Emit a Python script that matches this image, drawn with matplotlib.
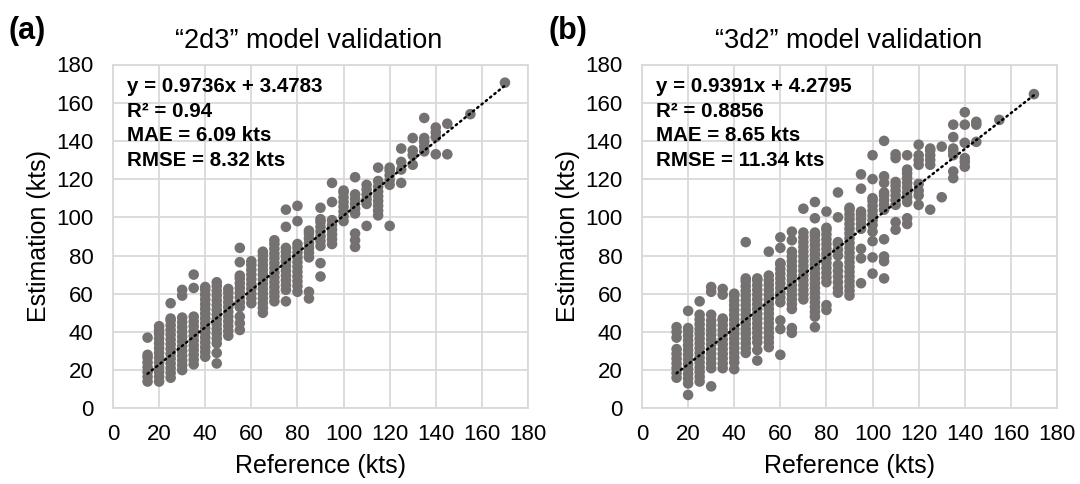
import matplotlib
matplotlib.use("Agg")
import matplotlib.pyplot as plt
import numpy as np

plt.rcParams['font.family'] = ['Liberation Sans', 'DejaVu Sans']

# ---------------- data ----------------
# Reference wind speed columns (kts)
refs_a = [15, 20, 25, 30, 35, 40, 45, 50, 55, 60, 65, 70, 75, 80, 85, 90, 95,
          100, 105, 110, 115, 120, 125, 130, 135, 140, 145, 155, 170]
est_a = [
    [14, 16.5, 19, 21.5, 24, 26.5, 28, 37],
    [14, 16.5, 19, 21.5, 24, 26.5, 29, 31.5, 34, 36.5, 39, 41, 43],
    [16, 18.5, 21, 23.5, 26, 28.5, 31, 33.5, 36, 38.5, 41, 43.5, 46, 47, 55],
    [20, 22.5, 25, 27.5, 30, 32.5, 35, 37.5, 40, 42.5, 45, 47.5, 59, 62],
    [23, 25.5, 28, 30.5, 33, 35.5, 38, 40.5, 43, 45.5, 48, 63, 70],
    [27, 29.5, 32, 34.5, 37, 39.5, 42, 44.5, 47, 49.5, 52, 54.5, 57, 59.5, 62, 63.5],
    [23.5, 29, 34, 36.5, 39, 41.5, 44, 46.5, 49, 51.5, 54, 56.5, 59, 61.5, 64, 66],
    [38, 40.5, 43, 45.5, 48, 50.5, 53, 55.5, 58, 60.5, 62.5],
    [41, 44.5, 48, 53, 55.5, 58, 60.5, 63, 65.5, 68, 69.5, 76.5, 84],
    [55, 57.5, 60, 62.5, 65, 67.5, 70, 72.5, 75, 77],
    [50, 52.5, 55, 57.5, 60, 62.5, 65, 67.5, 70, 72.5, 75, 77.5, 80, 82],
    [56, 58.5, 61, 63.5, 66, 68.5, 71, 73.5, 76, 78.5, 81, 83.5, 86, 88],
    [56, 62, 64.5, 67, 69.5, 72, 74.5, 77, 79.5, 82, 84, 95, 104],
    [61, 64, 66.5, 69, 71.5, 74, 76.5, 79, 81.5, 84, 86, 98, 106],
    [57.5, 61, 79, 81.5, 84, 86.5, 89, 91.5, 93],
    [69, 76, 85, 87.5, 90, 92.5, 95, 97.5, 99, 105],
    [86, 88.5, 91, 93.5, 96, 98.5, 108, 118],
    [98, 100.5, 103, 105.5, 108, 110.5, 113, 114],
    [84.5, 88, 91.5, 102, 104.5, 107, 109.5, 112, 121],
    [95.5, 107, 109.5, 112, 114.5, 117],
    [101, 103.5, 106, 108.5, 111, 113.5, 116, 119, 126],
    [95.5, 117, 119.5, 122, 124.5, 126],
    [118, 125, 129, 136],
    [127.5, 132.5, 135, 141.5],
    [134.5, 137, 139.5, 141.5, 152],
    [133, 142, 144.5, 147],
    [133, 149],
    [154],
    [170.5],
]

refs_b = [15, 20, 25, 30, 35, 40, 45, 50, 55, 60, 65, 70, 75, 80, 85, 90, 95,
          100, 105, 110, 115, 120, 125, 130, 135, 140, 145, 155, 170]
est_b = [
    [16, 18.5, 21, 23.5, 26, 28.5, 31, 37, 40, 42.5],
    [7, 13, 15.5, 18, 20.5, 23, 25.5, 28, 30.5, 33, 35.5, 38, 40.5, 42, 51],
    [14, 16.5, 19, 21.5, 24, 26.5, 29, 31.5, 34, 36.5, 39, 41.5, 44, 46.5, 49, 56],
    [11.5, 21, 23.5, 26, 28.5, 31, 33.5, 36, 38.5, 41, 43.5, 46, 49, 61, 63.5],
    [21, 23.5, 26, 28.5, 31, 33.5, 36, 38.5, 41, 43.5, 46, 47, 59.5, 62.5],
    [20.5, 24, 26.5, 29, 31.5, 34, 36.5, 39, 41.5, 44, 46.5, 49, 51.5, 54, 56.5, 59, 60],
    [29, 31.5, 34, 36.5, 39, 41.5, 44, 46.5, 49, 51.5, 54, 56.5, 59, 61.5, 64, 66.5, 68, 87],
    [25, 30.5, 34.5, 37, 39.5, 42, 44.5, 47, 49.5, 52, 54.5, 57, 59.5, 62, 64.5, 67, 68],
    [32, 34.5, 37, 39.5, 42, 44.5, 47, 49.5, 52, 54.5, 57, 59.5, 62, 64.5, 67, 69.5, 82],
    [28, 41.5, 46, 55.5, 58, 60.5, 63, 65.5, 68, 70.5, 73, 75.5, 76, 84, 89.5],
    [39.5, 42, 52, 54.5, 57, 59.5, 62, 64.5, 67, 69.5, 72, 74.5, 77, 79.5, 82, 88, 92.5],
    [57, 59.5, 62, 64.5, 67, 69.5, 72, 74.5, 77, 79.5, 82, 84.5, 87, 89.5, 92, 104.5],
    [42.5, 48, 50.5, 53, 55.5, 58, 60.5, 63, 65.5, 68, 70.5, 73, 75.5, 78, 80.5,
     83, 85.5, 88, 90.5, 92, 99.5, 108],
    [51.5, 54, 66, 68.5, 71, 73.5, 76, 78.5, 81, 83.5, 86, 88.5, 91, 93.5, 94.5, 103],
    [60.5, 63, 66, 69, 72, 75, 80, 83, 86, 87, 100, 113],
    [59, 61.5, 64, 66.5, 69, 71.5, 74, 76.5, 79, 81.5, 84, 86.5, 89, 91.5, 94,
     96.5, 99, 101.5, 104, 105],
    [65.5, 78.5, 83.5, 94, 96.5, 99, 101.5, 103, 115, 122.5],
    [70.5, 79, 87.5, 92.5, 96, 98.5, 101, 103.5, 106, 108.5, 110, 120, 132.5],
    [68, 77, 79.5, 88.5, 104, 106.5, 109, 111.5, 113, 118, 121.5, 140],
    [93.5, 97.5, 106.5, 109, 111.5, 114, 116.5, 118.5, 131, 133],
    [96.5, 99.5, 108, 110.5, 113, 115.5, 118, 120.5, 123, 125, 132.5],
    [106.5, 111.5, 114, 117.5, 127.5, 130, 132.5, 138],
    [104, 127.5, 130, 132.5, 135, 136],
    [110.5, 137],
    [120.5, 124, 132.5, 134.5, 136, 142, 148.5],
    [126.5, 129, 131, 139, 148.5, 155],
    [139.5, 148.5, 150],
    [151],
    [164.5],
]

# Linear trend lines (as printed on the chart)
fit_a = (0.9736, 3.4783)
fit_b = (0.9391, 4.2795)
fit_range = (15, 170)

titles = ["\u201c2d3\u201d model validation", "\u201c3d2\u201d model validation"]
panel_tags = ["(a)", "(b)"]
stats_a = ["y = 0.9736x + 3.4783", "R\u00b2 = 0.94", "MAE = 6.09 kts", "RMSE = 8.32 kts"]
stats_b = ["y = 0.9391x + 4.2795", "R\u00b2 = 0.8856", "MAE = 8.65 kts", "RMSE = 11.34 kts"]
ticks = [0, 20, 40, 60, 80, 100, 120, 140, 160, 180]
xlabel = "Reference (kts)"
ylabel = "Estimation (kts)"

# ---------------- figure ----------------
W, H = 1080, 484
fig = plt.figure(figsize=(W / 100, H / 100), dpi=100)

dot_color = '#767171'
grid_color = '#d9d9d9'

ax_bottom = 1 - 408.3 / H
ax_h = 343.8 / H
ax_w = 415 / W
axes_left = [113 / W, 642 / W]
title_cx = [309 / W, 849 / W]
tag_x = [8 / W, 548 / W]


def draw(ax, refs, ests, fit, stats):
    xs, ys = [], []
    for r, col in zip(refs, ests):
        xs.extend([r] * len(col))
        ys.extend(col)
    ax.scatter(xs, ys, s=58, color=dot_color, edgecolors='none', zorder=3)
    xl = np.array(fit_range, dtype=float)
    ax.plot(xl, fit[0] * xl + fit[1], color='black', lw=1.8,
            linestyle=(0, (0.6, 1.6)), dash_capstyle='round', zorder=4)
    ax.set_xlim(0, 180)
    ax.set_ylim(0, 180)
    ax.set_xticks(ticks)
    ax.set_yticks(ticks)
    ax.grid(True, color=grid_color, lw=1.3, zorder=0)
    ax.set_axisbelow(True)
    for sp in ax.spines.values():
        sp.set_color(grid_color)
        sp.set_linewidth(1.3)
    ax.tick_params(length=0, labelsize=16, colors='#000000')
    ax.tick_params(axis='x', pad=11)
    ax.tick_params(axis='y', pad=14)
    ax.set_xlabel(xlabel, fontsize=18, labelpad=7)
    ax.set_ylabel(ylabel, fontsize=18, labelpad=4)
    ax.text(0.033, 0.9637, "\n".join(stats), transform=ax.transAxes,
            fontsize=14.8, fontweight='bold', va='top', ha='left',
            linespacing=1.37, zorder=5)


for i, (refs, ests, fit, stats) in enumerate(
        [(refs_a, est_a, fit_a, stats_a), (refs_b, est_b, fit_b, stats_b)]):
    ax = fig.add_axes([axes_left[i], ax_bottom, ax_w, ax_h])
    draw(ax, refs, ests, fit, stats)
    fig.text(title_cx[i], 1 - 41 / H, titles[i], ha='center', va='center',
             fontsize=19.5)
    fig.text(tag_x[i], 1 - 31 / H, panel_tags[i], ha='left', va='center',
             fontsize=22, fontweight='bold')

fig.savefig("out.png", dpi=100)
